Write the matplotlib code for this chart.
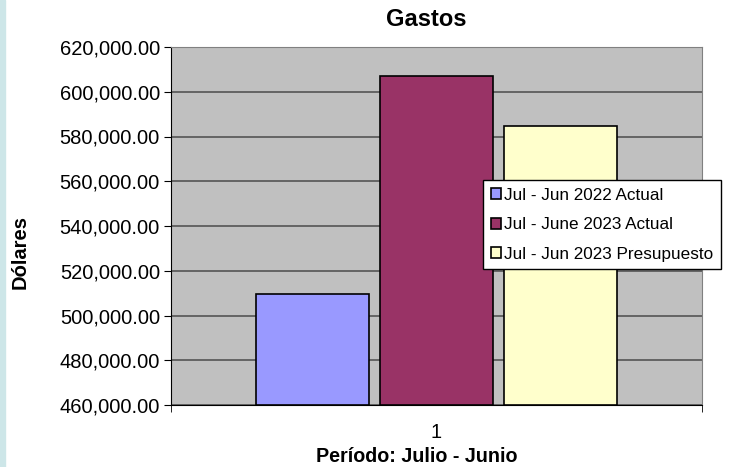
import matplotlib.pyplot as plt
from matplotlib.patches import Rectangle
from matplotlib.ticker import FuncFormatter

plt.rcParams['font.family'] = ['Liberation Sans', 'DejaVu Sans']

series = ["Jul - Jun 2022 Actual", "Jul - June 2023 Actual", "Jul - Jun 2023 Presupuesto"]
values = [509700, 606900, 584500]
colors = ["#9999ff", "#993366", "#ffffcc"]
category = "1"

W, H = 733, 467
fig = plt.figure(figsize=(W / 100, H / 100), dpi=100)
# light strip on the left edge
fig.patches.append(Rectangle((0, 0), 0.007, 1, transform=fig.transFigure,
                             color="#cde6e8", zorder=0))

ax = fig.add_axes([171 / W, 1 - 405 / H, 531 / W, 358 / H])
ax.set_facecolor("#c0c0c0")

offsets = [-1, 0, 1]
for off, val, col, name in zip(offsets, values, colors, series):
    ax.bar(off, val - 460000, bottom=460000, width=0.91, color=col,
           edgecolor="black", linewidth=1.2, label=name, zorder=3)

ax.set_ylim(460000, 620000)
ax.set_yticks(range(460000, 620001, 20000))
ax.yaxis.set_major_formatter(FuncFormatter(lambda v, p: f"{v:,.2f}"))
ax.grid(axis="y", color="#555555", linewidth=1.2, zorder=1)

ax.set_xlim(-2.14, 2.14)
ax.set_xticks([0])
ax.set_xticklabels([category])
ax.set_xticks([-2.14, 2.14], minor=True)
ax.tick_params(axis="x", which="major", length=0, pad=13, labelsize=14.5)
ax.tick_params(axis="x", which="minor", length=5, color="black")
ax.tick_params(axis="y", length=5, labelsize=14.5, pad=3)

for s in ["top", "right"]:
    ax.spines[s].set_color("#808080")
for s in ["left", "bottom"]:
    ax.spines[s].set_color("black")

# titles placed where the original chart has them (slightly off-centre)
fig.text(426 / W, 1 - 20 / H, "Gastos", fontsize=17, fontweight="bold",
         ha="center", va="center")
fig.text(20 / W, 1 - 252 / H, "Dólares", fontsize=14.5, fontweight="bold",
         ha="center", va="center", rotation=90)
fig.text(417 / W, 0.5 / H, "Período: Julio - Junio", fontsize=14.2,
         fontweight="bold", ha="center", va="bottom")

leg = ax.legend(loc="upper left", bbox_to_anchor=(483 / W, 1 - 180 / H),
                bbox_transform=fig.transFigure, fontsize=12.3, frameon=True,
                fancybox=False, edgecolor="black", framealpha=1,
                handlelength=0.6, handleheight=0.6, handletextpad=0.2,
                labelspacing=0.85, borderpad=0.45, borderaxespad=0)
leg.get_frame().set_linewidth(1)
leg.set_zorder(5)

fig.savefig("out.png", dpi=100)
